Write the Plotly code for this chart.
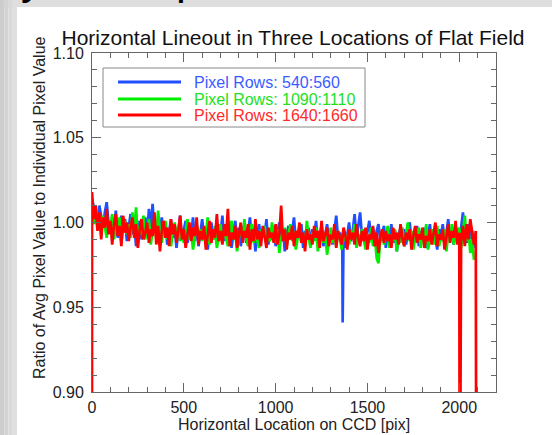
import numpy as np
import plotly.graph_objects as go

# ---------------- data ----------------
step_x = 10
blue_vals = [
    1.014, 1.009, 1.003, 0.999, 1.010, 1.004, 0.997, 1.006, 1.012, 1.000,
    0.994, 1.003, 0.998, 1.007, 0.991, 0.999, 1.004, 0.996, 1.002, 0.989,
    0.997, 1.005, 0.993, 0.999, 0.986, 0.995, 1.001, 0.990, 0.998, 1.003,
    0.992, 1.008, 0.996, 1.011, 0.994, 0.999, 0.988, 0.997, 1.003, 0.993,
    0.999, 0.987, 0.995, 1.002, 0.991, 0.998, 0.985, 0.996, 1.004, 0.990,
    0.996, 1.001, 0.988, 0.997, 0.993, 1.003, 0.989, 0.999, 0.986, 0.995,
    1.002, 0.991, 0.997, 0.984, 0.995, 1.000, 0.990, 0.996, 0.987, 0.999,
    0.993, 1.004, 0.989, 0.996, 0.991, 0.998, 0.985, 0.994, 1.001, 0.990,
    0.997, 0.986, 0.995, 0.999, 0.988, 0.994, 1.003, 0.990, 0.996, 0.983,
    0.994, 0.999, 0.989, 0.996, 0.992, 1.002, 0.987, 0.995, 0.990, 0.998,
    0.986, 0.994, 1.000, 0.989, 0.996, 0.983, 0.993, 0.998, 0.990, 0.995,
    1.003, 0.988, 0.994, 0.991, 0.999, 0.985, 0.995, 0.990, 0.997, 0.987,
    0.996, 0.992, 1.001, 0.988, 0.994, 0.998, 0.986, 0.993, 0.999, 0.990,
    0.995, 0.987, 0.997, 1.004, 0.990, 0.994, 0.991, 0.996, 0.985, 0.993,
    1.000, 0.989, 0.995, 1.005, 0.991, 0.998, 1.006, 0.992, 0.996, 0.988,
    0.994, 1.001, 0.990, 0.997, 0.986, 0.995, 0.999, 0.989, 0.993, 0.998,
    0.985, 0.994, 0.991, 0.999, 0.988, 0.995, 0.983, 0.992, 0.997, 0.990,
    0.996, 0.987, 0.993, 1.000, 0.989, 0.994, 0.991, 0.998, 0.986, 0.995,
    0.990, 0.997, 0.985, 0.993, 0.999, 0.988, 0.995, 0.991, 0.984, 0.996,
    0.992, 0.999, 0.989, 0.994, 1.002, 0.990, 0.996, 0.987, 0.998, 0.993,
    0.991, 0.997, 1.006, 0.993, 0.988, 0.999, 0.990, 0.995, 0.985,
]
blue_spike_x = [1363, 1365, 1367]
blue_spike_y = [0.991, 0.941, 0.990]

green_vals = [
    1.005, 0.999, 1.008, 0.996, 1.002, 0.993, 1.004, 0.998, 0.991, 1.001,
    0.996, 1.005, 0.990, 0.999, 0.994, 1.003, 0.988, 0.997, 1.001, 0.993,
    0.999, 0.991, 1.006, 0.995, 1.009, 0.989, 0.998, 0.993, 1.004, 0.990,
    0.996, 1.002, 0.987, 0.995, 0.999, 0.991, 1.007, 0.994, 0.988, 0.997,
    1.001, 0.990, 0.996, 0.986, 0.994, 1.000, 0.992, 0.997, 0.989, 0.995,
    0.988, 0.996, 1.002, 0.990, 0.995, 0.984, 0.993, 0.999, 0.991, 0.996,
    0.989, 0.997, 0.992, 1.003, 0.987, 0.994, 0.990, 0.998, 0.985, 0.993,
    0.999, 0.988, 0.995, 0.991, 0.986, 0.996, 1.001, 0.990, 0.994, 0.983,
    0.992, 0.997, 0.989, 1.002, 0.991, 0.986, 0.995, 0.999, 0.988, 0.994,
    0.990, 0.985, 0.996, 0.991, 0.998, 0.987, 0.993, 0.989, 1.000, 0.992,
    0.988, 0.996, 0.982, 0.993, 0.990, 0.997, 0.986, 0.994, 0.999, 0.989,
    0.995, 0.984, 0.992, 0.998, 0.988, 0.993, 0.987, 1.001, 0.991, 0.985,
    0.994, 0.989, 0.997, 0.983, 0.992, 0.996, 0.988, 0.994, 0.981, 0.991,
    0.997, 0.988, 0.993, 0.986, 0.995, 0.990, 0.984, 0.996, 0.989, 0.993,
    0.987, 0.995, 0.991, 0.999, 0.985, 0.993, 0.988, 0.996, 0.990, 0.984,
    0.993, 0.988, 0.997, 0.986, 0.992, 0.979, 0.976, 0.990, 0.995, 0.987,
    0.991, 0.998, 0.985, 0.993, 0.989, 0.996, 0.983, 0.992, 0.988, 0.997,
    0.986, 0.994, 1.000, 0.989, 0.995, 0.984, 0.992, 0.990, 0.997, 0.985,
    0.993, 0.988, 0.999, 0.984, 0.991, 0.996, 0.987, 0.993, 0.998, 0.986,
    0.992, 0.989, 0.996, 0.983, 0.994, 0.990, 0.999, 0.987, 0.993, 0.991,
    0.997, 0.985, 0.994, 1.004, 0.989, 0.996, 0.982, 0.990, 0.978,
]

red_vals = [
    1.018, 1.002, 1.010, 0.995, 1.006, 0.990, 1.003, 0.997, 1.008, 0.993,
    1.001, 0.987, 0.999, 1.005, 0.992, 0.998, 0.986, 1.004, 0.994, 1.000,
    0.989, 0.997, 1.003, 0.991, 0.999, 0.985, 0.996, 1.002, 0.990, 0.994,
    1.000, 0.988, 0.996, 0.992, 1.006, 0.987, 0.998, 0.983, 0.995, 1.001,
    0.991, 0.997, 0.986, 1.002, 0.993, 0.999, 0.988, 0.995, 1.004, 0.990,
    0.996, 0.985, 0.994, 1.000, 0.989, 0.997, 0.992, 1.003, 0.987, 0.995,
    0.990, 0.998, 0.984, 0.994, 1.001, 0.988, 0.996, 0.991, 1.005, 0.989,
    0.995, 0.987, 0.999, 0.992, 1.008, 0.986, 0.994, 0.990, 0.998, 0.985,
    0.993, 1.000, 0.988, 0.995, 0.991, 0.999, 0.984, 0.996, 0.989, 1.002,
    0.990, 0.995, 0.986, 0.998, 0.992, 0.985, 0.997, 0.991, 0.994, 0.988,
    0.999, 0.987, 0.993, 1.010, 0.989, 0.996, 0.984, 0.994, 0.990, 0.998,
    0.986, 0.995, 0.991, 1.000, 0.988, 0.994, 0.983, 0.996, 0.990, 0.993,
    0.987, 0.998, 0.991, 0.995, 0.985, 1.001, 0.989, 0.994, 0.997, 0.986,
    0.993, 0.990, 0.999, 0.985, 0.995, 0.991, 0.987, 0.997, 0.992, 0.984,
    0.996, 0.990, 0.994, 0.987, 0.999, 0.991, 0.986, 0.995, 0.989, 0.997,
    0.984, 0.993, 0.990, 0.998, 0.986, 0.994, 0.982, 0.991, 0.996, 0.988,
    0.995, 0.989, 0.993, 0.985, 0.997, 0.990, 0.994, 0.987, 0.999, 0.991,
    0.986, 0.994, 0.990, 0.996, 0.984, 0.992, 0.998, 0.988, 0.993, 0.990,
    0.997, 0.985, 0.992, 0.989, 0.996, 0.987, 0.994, 1.000, 0.986, 0.993,
    0.990, 0.996, 0.984, 0.993, 0.999, 0.988, 0.995, 0.991, 1.001, 0.987,
    0.994, 0.989, 0.998, 0.986, 0.999, 0.990, 1.002, 0.993, 0.987, 0.995,
]
# dropouts in the red lineout (values fall far below the plotted range)
red_drop_x = [0, 2003, 2093]
red_drop_y = [0.80, 0.80, 0.80]

series_names = ["Pixel Rows: 540:560", "Pixel Rows: 1090:1110", "Pixel Rows: 1640:1660"]
line_colors = ["#1f4fff", "#00ee00", "#ff0000"]
text_colors = ["#3a5cff", "#22e022", "#ff2a2a"]

x_ticks = [0, 500, 1000, 1500, 2000]
y_ticks = [0.90, 0.95, 1.00, 1.05, 1.10]

# ---------------- build series ----------------
def merge(xs, ys, ex, ey):
    pts = sorted(list(zip(xs, ys)) + list(zip(ex, ey)), key=lambda p: p[0])
    return [p[0] for p in pts], [p[1] for p in pts]

bx = list(np.arange(len(blue_vals)) * step_x)
bx, by = merge(bx, blue_vals, blue_spike_x, blue_spike_y)
gx = list(np.arange(len(green_vals)) * step_x)
gy = green_vals
rx0 = list(np.arange(len(red_vals)) * step_x)
rx = [red_drop_x[0]] + rx0[:201] + [red_drop_x[1]] + rx0[201:] + [red_drop_x[2]]
ry = [red_drop_y[0]] + red_vals[:201] + [red_drop_y[1]] + red_vals[201:] + [red_drop_y[2]]

fig = go.Figure()
for xs, ys, c, n in [(bx, by, line_colors[0], series_names[0]),
                     (gx, gy, line_colors[1], series_names[1]),
                     (rx, ry, line_colors[2], series_names[2])]:
    fig.add_trace(go.Scatter(x=xs, y=ys, mode="lines", name=n,
                             line=dict(color=c, width=2.7), showlegend=False))

W, H = 552, 435
L, R, T, B = 92, 496, 53, 392
FONT = "Liberation Sans, Arial, sans-serif"

def px(xp):
    return (xp - L) / (R - L)

def py(yp):
    return (B - yp) / (B - T)

shapes = []
# top gray strip of the slide
shapes.append(dict(type="rect", xref="paper", yref="paper", x0=px(0), x1=px(W),
                   y0=py(7), y1=py(0), fillcolor="#dedede", line=dict(width=0), layer="below"))
# left gray gradient strips
for i, col in enumerate(["#cdcdcd", "#d3d3d3", "#d9d9d9", "#dfdfdf"]):
    shapes.append(dict(type="rect", xref="paper", yref="paper", x0=px(i * 4.25), x1=px((i + 1) * 4.25),
                       y0=py(H), y1=py(0), fillcolor=col, line=dict(width=0), layer="below"))
# keep the bottom edge of the white slide clean
shapes.append(dict(type="rect", xref="paper", yref="paper", x0=px(17), x1=px(W),
                   y0=py(H), y1=py(431), fillcolor="white", line=dict(width=0), layer="above"))

# legend box
shapes.append(dict(type="rect", xref="paper", yref="paper", x0=px(103), x1=px(365),
                   y0=py(127), y1=py(68), fillcolor="white", line=dict(color="#888888", width=1)))
leg_y = [82, 99, 115]
annotations = []
for i in range(3):
    shapes.append(dict(type="line", xref="paper", yref="paper", x0=px(118), x1=px(181),
                       y0=py(leg_y[i]), y1=py(leg_y[i]), line=dict(color=line_colors[i], width=3)))
    annotations.append(dict(x=px(192), y=py(leg_y[i]), xref="paper", yref="paper",
                            text=series_names[i], showarrow=False, xanchor="left", yanchor="middle",
                            font=dict(family=FONT, size=16, color=text_colors[i])))

# cut-off slide heading fragments (only descenders visible)
for ch, xx in [("y", 32), ("p", 188)]:
    annotations.append(dict(x=px(xx), y=py(5), xref="paper", yref="paper", text=ch, showarrow=False,
                            xanchor="center", yanchor="bottom",
                            font=dict(family=FONT, size=44, color="black")))

# axis titles
annotations.append(dict(x=px(294), y=py(424), xref="paper", yref="paper",
                        text="Horizontal Location on CCD [pix]", showarrow=False,
                        xanchor="center", yanchor="middle", font=dict(family=FONT, size=16, color="#222222")))
annotations.append(dict(x=px(39), y=py(208), xref="paper", yref="paper",
                        text="Ratio of Avg Pixel Value to Individual Pixel Value", showarrow=False,
                        textangle=-90, xanchor="center", yanchor="middle",
                        font=dict(family=FONT, size=16, color="#222222")))

fig.update_layout(
    width=W, height=H,
    margin=dict(l=L, r=W - R, t=T, b=H - B, pad=0),
    paper_bgcolor="white", plot_bgcolor="white",
    font=dict(family=FONT, size=16, color="#222222"),
    title=dict(text="Horizontal Lineout in Three Locations of Flat Field",
               xref="paper", x=px(293), xanchor="center", y=1 - 38 / H, yanchor="middle",
               font=dict(size=21, color="#111111")),
    shapes=shapes, annotations=annotations,
)
axis_common = dict(showgrid=False, zeroline=False, showline=True, linecolor="#666666", linewidth=1,
                   mirror="allticks", ticks="inside", ticklen=9, tickcolor="#666666", tickwidth=1,
                   automargin=False)
fig.update_xaxes(range=[0, 2200], tickvals=x_ticks, ticktext=[str(v) for v in x_ticks],
                 minor=dict(dtick=100, ticks="inside", ticklen=5, tickcolor="#666666"),
                 ticklabelstandoff=1, **axis_common)
fig.update_yaxes(range=[0.90, 1.10], tickvals=y_ticks, ticktext=[f"{v:.2f}" for v in y_ticks],
                 minor=dict(dtick=0.01, ticks="inside", ticklen=5, tickcolor="#666666"),
                 ticklabelstandoff=4, **axis_common)

fig.write_html("out.html",
               post_script="document.documentElement.style.overflow='hidden';"
                           "document.body.style.overflow='hidden';document.body.style.margin='0';")
